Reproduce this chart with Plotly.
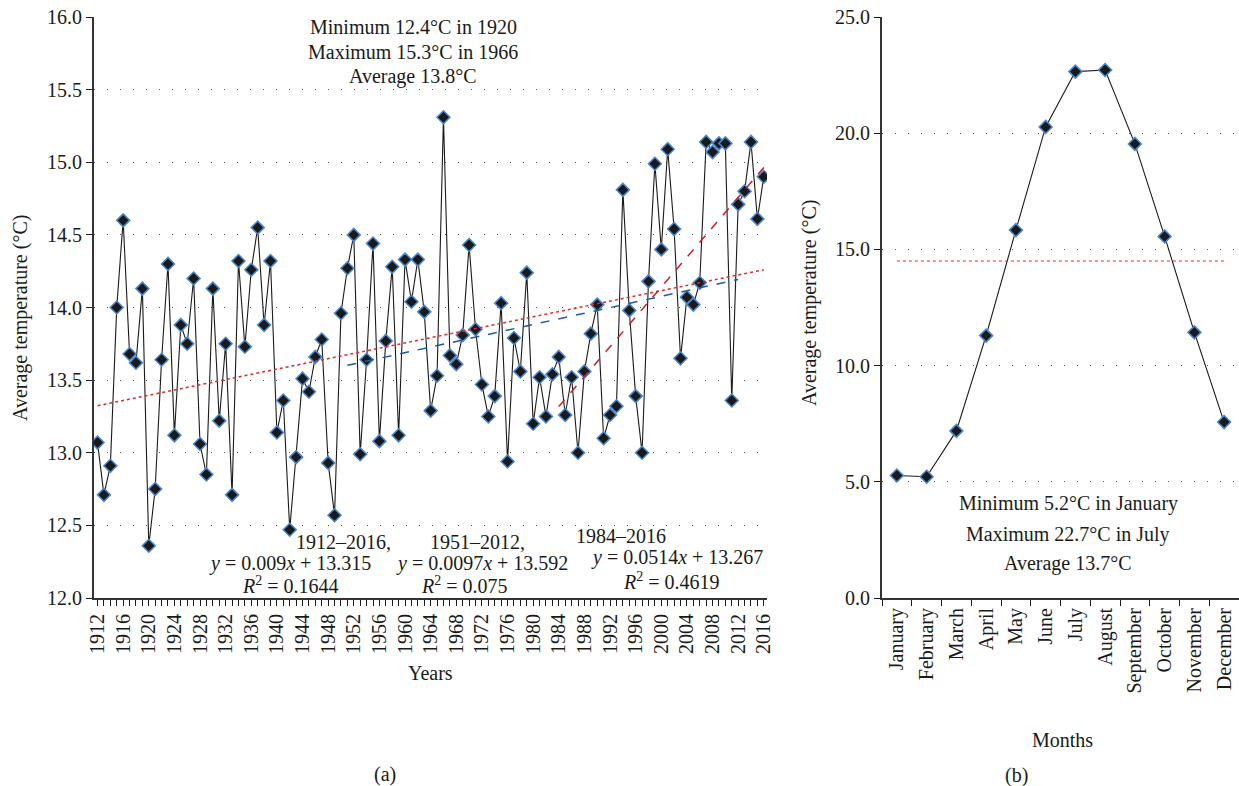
import plotly.graph_objects as go

# ---------------- data ----------------
years = list(range(1912, 2017))
annual_temp = [
    13.07, 12.71, 12.91, 14.00, 14.60, 13.68, 13.62, 14.13, 12.36, 12.75,   # 1912-1921
    13.64, 14.30, 13.12, 13.88, 13.75, 14.20, 13.06, 12.85, 14.13, 13.22,   # 1922-1931
    13.75, 12.71, 14.32, 13.73, 14.26, 14.55, 13.88, 14.32, 13.14, 13.36,   # 1932-1941
    12.47, 12.97, 13.51, 13.42, 13.66, 13.78, 12.93, 12.57,                 # 1942-1949
    13.96, 14.27, 14.50, 12.99, 13.64, 14.44, 13.08, 13.77, 14.28, 13.12,   # 1950-1959
    14.33, 14.04, 14.33, 13.97, 13.29, 13.53, 15.31, 13.67, 13.61, 13.81,   # 1960-1969
    14.43, 13.85, 13.47, 13.25, 13.39, 14.03, 12.94, 13.79, 13.56, 14.24,   # 1970-1979
    13.20, 13.52, 13.25, 13.54, 13.66, 13.26, 13.52, 13.00, 13.56, 13.82,   # 1980-1989
    14.02, 13.10, 13.26, 13.32, 14.81, 13.98, 13.39, 13.00, 14.18, 14.99,   # 1990-1999
    14.40, 15.09, 14.54, 13.65, 14.07, 14.02, 14.17, 15.14, 15.07, 15.13,   # 2000-2009
    15.13, 13.36, 14.71, 14.80, 15.14, 14.61, 14.90,                        # 2010-2016
]

# trend lines as printed on the chart (x = 1, 2, ... from the first year)
trend_labels = ["1912–2016,", "1951–2012,", "1984–2016"]
trend_start = [1912, 1951, 1984]
trend_end = [2016, 2012, 2016]
trend_slope = [0.009, 0.0097, 0.0514]
trend_intercept = [13.315, 13.592, 13.267]
trend_slope_txt = ["0.009", "0.0097", "0.0514"]
trend_intercept_txt = ["13.315", "13.592", "13.267"]
trend_r2 = ["0.1644", "0.075", "0.4619"]

months = ["January", "February", "March", "April", "May", "June", "July",
          "August", "September", "October", "November", "December"]
monthly_temp = [5.27, 5.22, 7.19, 11.29, 15.83, 20.27, 22.65, 22.72, 19.54, 15.56, 11.43, 7.57]
monthly_ref = 14.5

left_yticks = [12.0, 12.5, 13.0, 13.5, 14.0, 14.5, 15.0, 15.5, 16.0]
right_yticks = [0.0, 5.0, 10.0, 15.0, 20.0, 25.0]
year_ticks = list(range(1912, 2017, 4))

# ---------------- styling ----------------
W, H = 1239, 786
FONT = "Liberation Serif, Times New Roman, serif"
BLACK = "#1a1a1a"
MARK_EDGE = "#4a86d0"
GRID_DASH = "1px,12px"
FS = 20


def px(x):
    return x / W


def py(y):
    return 1 - y / H


fig = go.Figure()

# annual series
fig.add_trace(go.Scatter(
    x=years, y=annual_temp, mode="lines+markers",
    line=dict(color=BLACK, width=1.1),
    marker=dict(symbol="diamond", size=10, color=BLACK,
                line=dict(color=MARK_EDGE, width=1.5)),
    xaxis="x", yaxis="y", showlegend=False, hoverinfo="x+y"))

trend_styles = [
    dict(color="#e8262c", width=1.5, dash="dot"),
    dict(color="#1f5b96", width=1.5, dash="dash"),
    dict(color="#c8202a", width=1.5, dash="dash"),
]
for s, e, m, b, st in zip(trend_start, trend_end, trend_slope, trend_intercept, trend_styles):
    xs = [s, e]
    ys = [m * 1 + b, m * (e - s + 1) + b]
    fig.add_trace(go.Scatter(x=xs, y=ys, mode="lines", line=st,
                             xaxis="x", yaxis="y", showlegend=False, hoverinfo="skip"))

# monthly series
fig.add_trace(go.Scatter(
    x=months, y=monthly_temp, mode="lines+markers",
    line=dict(color=BLACK, width=1.1),
    marker=dict(symbol="diamond", size=10, color=BLACK,
                line=dict(color=MARK_EDGE, width=1.5)),
    xaxis="x2", yaxis="y2", showlegend=False))
fig.add_trace(go.Scatter(
    x=[months[0], months[-1]], y=[monthly_ref, monthly_ref], mode="lines",
    line=dict(color="#e8262c", width=1.2, dash="dot"),
    xaxis="x2", yaxis="y2", showlegend=False, hoverinfo="skip"))

ydom = [py(598), py(17)]
tickfont = dict(family=FONT, size=FS, color=BLACK)

fig.update_layout(
    width=W, height=H,
    margin=dict(l=0, r=0, t=0, b=0),
    paper_bgcolor="white", plot_bgcolor="white",
    font=dict(family=FONT, size=FS, color=BLACK),
    xaxis=dict(domain=[px(94), px(767)], range=[1911.45, 2016.5],
               tickmode="array", tickvals=year_ticks, tickangle=-90,
               ticks="outside", ticklen=6, tickcolor=BLACK, tickwidth=1,
               minor=dict(tickmode="linear", tick0=1912, dtick=1, ticks="outside",
                          ticklen=6, tickcolor=BLACK, tickwidth=1, showgrid=False),
               showline=True, linecolor="#333333", linewidth=2,
               showgrid=False, zeroline=False, tickfont=tickfont,
               anchor="y", automargin=False),
    yaxis=dict(domain=ydom, range=[12.0, 16.0], tickmode="array",
               tickvals=left_yticks, tickformat=".1f",
               ticks="outside", ticklen=6, tickcolor=BLACK,
               showline=True, linecolor="#333333", linewidth=2,
               showgrid=True, gridcolor="#555555", gridwidth=1, griddash=GRID_DASH,
               zeroline=False, tickfont=tickfont, anchor="x", automargin=False),
    xaxis2=dict(domain=[px(882), 1.0], range=[-0.5, 11.5], type="category",
                categoryorder="array", categoryarray=months,
                tickangle=-90, ticks="outside", ticklen=6, tickcolor=BLACK,
                tickson="boundaries",
                showline=True, linecolor="#333333", linewidth=2,
                showgrid=False, zeroline=False, tickfont=tickfont,
                anchor="y2", automargin=False),
    yaxis2=dict(domain=ydom, range=[0, 25], tickmode="array",
                tickvals=right_yticks, tickformat=".1f",
                ticks="outside", ticklen=6, tickcolor=BLACK,
                showline=True, linecolor="#333333", linewidth=2,
                showgrid=True, gridcolor="#555555", gridwidth=1, griddash=GRID_DASH,
                zeroline=False, tickfont=tickfont, anchor="x2", automargin=False),
)

ann = []


def text(x, y, s, size=FS, anchor="center", angle=0):
    ann.append(dict(x=px(x), y=py(y), xref="paper", yref="paper", text=s,
                    showarrow=False, xanchor=anchor, yanchor="middle",
                    textangle=angle, font=dict(family=FONT, size=size, color=BLACK)))


# left panel texts
text(413, 27, "Minimum 12.4°C in 1920")
text(413, 52, "Maximum 15.3°C in 1966")
text(413, 77, "Average 13.8°C")

eq_pos = [  # label x, eq x, r2 x, label y, eq y, r2 y (centres)
    (343, 290, 290, 542, 563, 585),
    (478, 482, 465, 542, 563, 585),
    (621, 677, 671, 536, 557, 581),
]
for lab, m, b, r2, (lx, ex, rx, ly, ey, ry) in zip(
        trend_labels, trend_slope_txt, trend_intercept_txt, trend_r2, eq_pos):
    text(lx, ly, lab)
    text(ex, ey, f"<i>y</i> = {m}<i>x</i> + {b}")
    text(rx, ry, f"<i>R</i><sup>2</sup> = {r2}")

text(20, 318, "Average temperature (°C)", angle=-90)
text(430, 673, "Years")
text(385, 774, "(a)")

# right panel texts
text(1068, 503, "Minimum 5.2°C in January")
text(1068, 534, "Maximum 22.7°C in July")
text(1068, 563, "Average 13.7°C")
text(810, 303, "Average temperature (°C)", angle=-90)
text(1062, 740, "Months")
text(1016, 775, "(b)")

fig.update_layout(annotations=ann)
fig.write_html("out.html",
               config={"displayModeBar": False},
               post_script="document.body.style.margin='0px';"
                           "document.body.style.overflow='hidden';")
